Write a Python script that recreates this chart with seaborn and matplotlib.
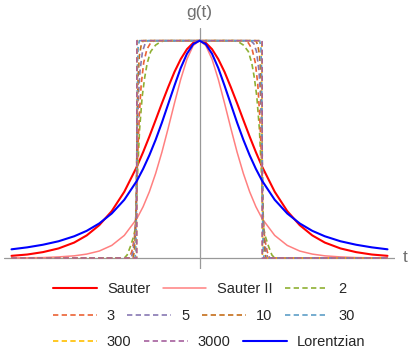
import matplotlib
matplotlib.use("Agg")
import matplotlib.pyplot as plt
import numpy as np
import seaborn as sns

# half curves (t >= 0); the plot is symmetric in t
t_smooth = [0, 0.1, 0.2, 0.3, 0.4, 0.5, 0.6, 0.7, 0.8, 0.9, 1.0,
            1.2, 1.4, 1.6, 1.8, 2.0, 2.25, 2.5, 2.75, 3.0]
g_sauter = [1.0, 0.990, 0.961, 0.915, 0.856, 0.786, 0.712, 0.635, 0.559, 0.487, 0.420,
            0.305, 0.216, 0.151, 0.104, 0.071, 0.044, 0.027, 0.016, 0.010]
g_sauter2 = [1.0, 0.978, 0.915, 0.822, 0.712, 0.597, 0.487, 0.389, 0.305, 0.236, 0.181,
             0.104, 0.058, 0.032, 0.018, 0.010, 0.005, 0.002, 0.001, 0.0005]
g_lorentz = [1.0, 0.984, 0.940, 0.874, 0.793, 0.708, 0.623, 0.544, 0.473, 0.410, 0.355,
             0.268, 0.205, 0.159, 0.125, 0.100, 0.077, 0.061, 0.049, 0.040]

flat_labels = ["2", "3", "5", "10", "30", "300", "3000"]
t_flat = [
    [0, 0.55, 0.62, 0.7, 0.78, 0.835, 0.875, 0.915, 0.957, 0.99, 1.02, 1.05, 1.1, 1.155, 1.2, 3.0],
    [0, 0.72, 0.78, 0.84, 0.89, 0.93, 0.96, 0.99, 1.01, 1.04, 1.08, 1.12, 3.0],
    [0, 0.82, 0.87, 0.91, 0.95, 0.975, 0.995, 1.01, 1.03, 1.06, 1.09, 3.0],
    [0, 0.9, 0.93, 0.96, 0.98, 0.995, 1.005, 1.02, 1.04, 1.06, 3.0],
    [0, 0.96, 0.98, 0.99, 1.0, 1.01, 1.02, 1.03, 3.0],
    [0, 0.995, 1.0, 1.005, 3.0],
    [0, 0.999, 1.0, 1.001, 3.0],
]
g_flat = [
    [1, 1, 0.995, 0.98, 0.95, 0.896, 0.83, 0.742, 0.589, 0.38, 0.144, 0.10, 0.055, 0.014, 0, 0],
    [1, 1, 0.99, 0.96, 0.9, 0.8, 0.66, 0.45, 0.2, 0.09, 0.03, 0, 0],
    [1, 1, 0.985, 0.95, 0.86, 0.74, 0.55, 0.25, 0.1, 0.03, 0, 0],
    [1, 1, 0.98, 0.93, 0.83, 0.65, 0.35, 0.12, 0.03, 0, 0],
    [1, 1, 0.97, 0.88, 0.5, 0.12, 0.02, 0, 0],
    [1, 1, 0.5, 0, 0],
    [1, 1, 0.5, 0, 0],
]
flat_colors = ["#8FB032", "#EB6235", "#8778B3", "#C56E1A", "#5D9EC7", "#FFBF00", "#A5609D"]


def mirror(t, g):
    t = np.asarray(t, float)
    g = np.asarray(g, float)
    return (np.concatenate([-t[::-1], t[1:]]),
            np.concatenate([g[::-1], g[1:]]))


sns.set_style("white")
plt.rcParams["font.family"] = ["Liberation Sans", "DejaVu Sans"]

fig = plt.figure(figsize=(4.09, 3.60), dpi=100)
ax = fig.add_axes([4 / 409, 1 - 269 / 360, 391 / 409, 241 / 360])

handles = []


def draw(t, g, color, lw, label, dashed=False):
    x, y = mirror(t, g)
    sns.lineplot(x=x, y=y, ax=ax, color=color, lw=lw, sort=False,
                 estimator=None, legend=False, label=label)
    line = ax.lines[-1]
    if dashed:
        line.set_dashes((3.2, 2.0))
    handles.append(line)


draw(t_smooth, g_sauter, "#FF0000", 1.5, "Sauter")
draw(t_smooth, g_sauter2, "#FF8080", 1.1, "Sauter II")
for t, g, c, lab in zip(t_flat, g_flat, flat_colors, flat_labels):
    draw(t, g, c, 1.2, lab, dashed=True)
draw(t_smooth, g_lorentz, "#0000FF", 1.5, "Lorentzian")

if ax.get_legend() is not None:
    ax.get_legend().remove()

ax.axhline(0, color="#999999", lw=0.9, zorder=0)
ax.axvline(0, color="#999999", lw=0.9, zorder=0)
ax.set_xlim(-3.12, 3.12)
ax.set_ylim(-0.0506, 1.0584)
ax.set_axis_off()

fig.text(199.5 / 409, 1 - 12 / 360, "g(t)", ha="center", va="center",
         color="#707070", fontsize=12.5)
fig.text(405 / 409, 1 - 257 / 360, "t", ha="center", va="center",
         color="#707070", fontsize=12.5)

rows = [handles[0:3], handles[3:7], handles[7:10]]
row_y = [289, 316, 342]
for hs, yy in zip(rows, row_y):
    leg = fig.legend(handles=hs, labels=[h.get_label() for h in hs],
                     loc="center left", bbox_to_anchor=(53 / 409, 1 - yy / 360),
                     ncol=len(hs), frameon=False, fontsize=10.5,
                     handlelength=3.0, handletextpad=0.7, columnspacing=0.85,
                     borderpad=0, borderaxespad=0)

fig.savefig("out.png", dpi=100)
